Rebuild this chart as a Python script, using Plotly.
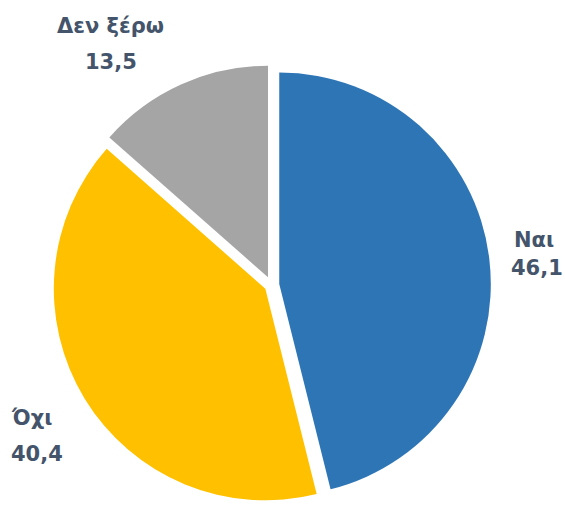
import plotly.graph_objects as go

labels = ["Ναι", "Όχι", "Δεν ξέρω"]
values = [46.1, 40.4, 13.5]
value_text = ["46,1", "40,4", "13,5"]
colors = ["#2E75B6", "#FFC000", "#A5A5A5"]
pulls = [0.037, 0.034, 0.04]

W, H = 565, 505
cx, cy, half = 271.5, 285.0, 220.0

fig = go.Figure(go.Pie(
    labels=labels,
    values=values,
    text=value_text,
    textinfo="none",
    sort=False,
    direction="clockwise",
    rotation=0,
    pull=pulls,
    marker=dict(colors=colors, line=dict(width=0)),
    hoverinfo="label+text",
    showlegend=False,
    domain=dict(x=[(cx - half) / W, (cx + half) / W],
                y=[1 - (cy + half) / H, 1 - (cy - half) / H]),
))

# label placement (pixel centres of each text line: name line, value line)
label_pos = [((534, 240), (537, 267.5)),
             ((31, 417.5), (37, 454)),
             ((110, 25.5), (111, 61.5))]
font = dict(family="DejaVu Sans", size=21, color="#44546A", weight="bold")
for name, val, ((x1, y1), (x2, y2)) in zip(labels, value_text, label_pos):
    for txt, x, y in ((name, x1, y1), (val, x2, y2)):
        fig.add_annotation(text=txt, x=x / W, y=1 - y / H, xref="paper", yref="paper",
                           xanchor="center", yanchor="middle", showarrow=False, font=font)

fig.update_layout(
    width=W, height=H,
    margin=dict(l=0, r=0, t=0, b=0),
    paper_bgcolor="white",
    plot_bgcolor="white",
)

fig.write_html("out.html", config={"displayModeBar": False},
               post_script="document.body.style.margin='0';")
